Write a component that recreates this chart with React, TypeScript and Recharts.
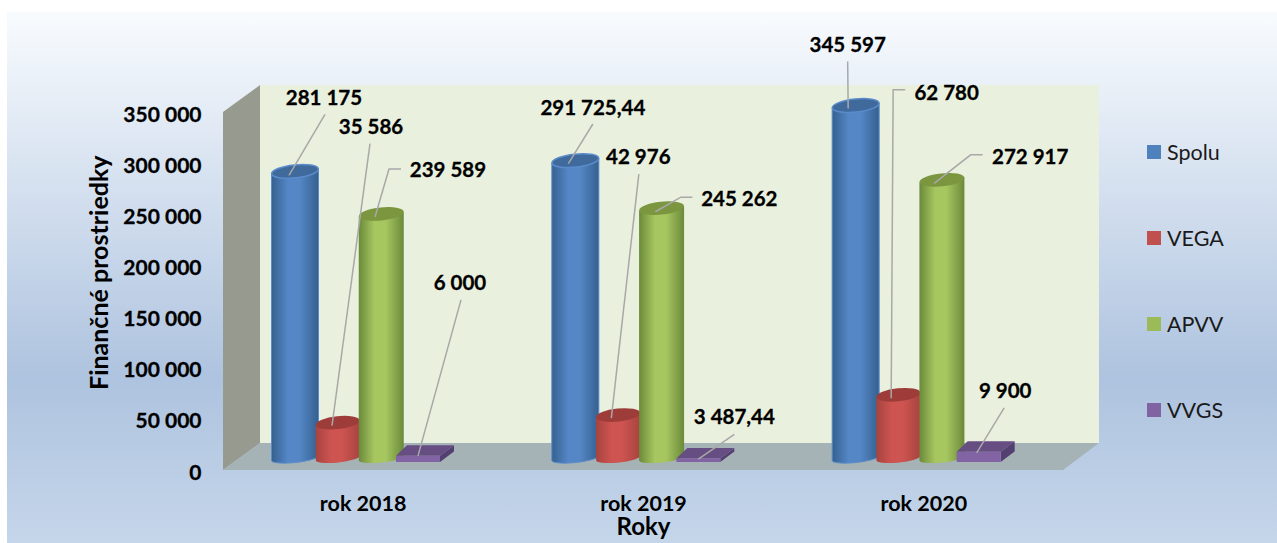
import {
  Bar,
  BarChart,
  LabelList,
  Legend,
  XAxis,
  YAxis,
} from "recharts";

const years = ["rok 2018", "rok 2019", "rok 2020"];
const spolu = [281175, 291725.44, 345597];
const vega = [35586, 42976, 62780];
const apvv = [239589, 245262, 272917];
const vvgs = [6000, 3487.44, 9900];
const yTicks = [0, 50000, 100000, 150000, 200000, 250000, 300000, 350000];

const data = years.map((year, i) => ({
  year,
  Spolu: spolu[i],
  VEGA: vega[i],
  APVV: apvv[i],
  VVGS: vvgs[i],
}));

// label text centre, then leader points, all relative to the bar's top centre
const spoluLabels = [
  { text: [29, -74], line: [[30, -57], [-6, 4]] },
  { text: [17.5, -54], line: [[17.5, -36.6], [-7, 3]] },
  { text: [-8, -62], line: [[-8, -44], [-7.5, 3]] },
];
const vegaLabels = [
  { text: [35, -297], line: [[34, -279], [-4, 3]] },
  { text: [22, -259], line: [[22.5, -241], [-5, 3]] },
  { text: [50, -303], line: [[8.5, -305], [-3.5, -305], [-5.5, 3.5]] },
];
const apvvLabels = [
  { text: [71, -45], line: [[24, -45], [12, -45], [-2, 3]] },
  { text: [82, -10], line: [[35, -11], [23.5, -11], [-2, 3.6]] },
  { text: [92.5, -24], line: [[45, -25], [33, -25], [-3.5, 3.5]] },
];
const vvgsLabels = [
  { text: [42, -171], line: [[43, -153], [0, 3]] },
  { text: [36, -39], line: [[36, -21], [0, 3.6]] },
  { text: [26.5, -59], line: [[25.5, -41], [-2, 4]] },
];

const FONT = "Lato, sans-serif";

const formatValue = (v: number) => {
  const [whole, dec] = String(v).split(".");
  const grouped = whole.replace(/\B(?=(\d{3})+$)/g, " ");
  return dec ? `${grouped},${dec}` : grouped;
};

// walls and floor of the 3D box, sitting behind the bars
const Backdrop = () => (
  <g>
    <rect x={7} y={12} width={1270} height={531} fill="url(#panelBg)" />
    <polygon points="223,112 260,85 260,443 223,470" fill="#979a8e" />
    <polygon points="260,85 1099,85 1099,443 260,443" fill="#e9f0de" />
    <polygon points="260,443 1099,443 1063,470 223,470" fill="#a6b3b6" />
  </g>
);

const Gradients = () => (
  <defs>
    <linearGradient id="panelBg" x1="0" y1="0" x2="0" y2="1">
      <stop offset="0" stopColor="#f8fbfe" />
      <stop offset="0.69" stopColor="#aec3df" />
      <stop offset="1" stopColor="#c5d6ea" />
    </linearGradient>
    {[
      ["blueBody", "#35608f", "#5587c6"],
      ["redBody", "#a8433f", "#cd5450"],
      ["greenBody", "#6b8a3a", "#a6c660"],
    ].map(([id, edge, mid]) => (
      <linearGradient id={id} key={id} x1="0" y1="0" x2="1" y2="0">
        <stop offset="0" stopColor={edge} />
        <stop offset="0.35" stopColor={mid} />
        <stop offset="0.6" stopColor={mid} />
        <stop offset="1" stopColor={edge} />
      </linearGradient>
    ))}
  </defs>
);

const Cylinder = (props: any) => {
  const { x, y, width, height, bodyFill, topFill, rim, drawWidth, nudge } = props;
  const cx = x + width / 2 + nudge;
  const rx = drawWidth / 2;
  const left = cx - rx;
  const right = cx + rx;
  const base = y + height;
  const body = `M${left},${y + 2.5} L${left},${base + 1} A${rx},4.5 -6 0 0 ${right},${base - 3} L${right},${y - 2.5} Z`;
  return (
    <g>
      <path d={body} fill={`url(#${bodyFill})`} stroke={rim} strokeWidth={rim ? 1 : 0} />
      <ellipse
        cx={cx}
        cy={y}
        rx={rx}
        ry={6.5}
        fill={topFill}
        stroke={rim}
        strokeWidth={rim ? 1.5 : 0}
        transform={`rotate(-6 ${cx} ${y})`}
      />
    </g>
  );
};

const Block = (props: any) => {
  const { x, y, width, height } = props;
  const left = x + width / 2 - 22;
  const right = left + 44;
  const top = y + 3;
  const base = y + height + 3;
  return (
    <g>
      <polygon points={`${right},${top} ${right + 14},${top - 10.5} ${right + 14},${base - 10.5} ${right},${base}`} fill="#544070" />
      <polygon points={`${left},${top} ${left + 11},${top - 10.5} ${right + 14},${top - 10.5} ${right},${top}`} fill="#664d82" />
      <rect x={left} y={top} width={44} height={height} fill="#8264a4" />
    </g>
  );
};

const leaderLabel = (layout: typeof spoluLabels) => (props: any) => {
  const { x, y, width, value, index } = props;
  const cx = x + width / 2;
  const { text, line } = layout[index];
  const pts = line.map(([dx, dy]) => `${cx + dx},${y + dy}`).join(" ");
  return (
    <g>
      <polyline points={pts} fill="none" stroke="#a8a8a8" strokeWidth={1.5} />
      <text
        x={cx + text[0]}
        y={y + text[1]}
        textAnchor="middle"
        dominantBaseline="central"
        fontFamily={FONT}
        fontWeight={700}
        fontSize={20.5}
        stroke="#000"
        strokeWidth={0.3}
        fill="#000"
      >
        {formatValue(value)}
      </text>
    </g>
  );
};

const YTick = (props: any) => (
  <text
    x={props.x}
    y={props.y + 12}
    textAnchor="end"
    dominantBaseline="central"
    fontFamily={FONT}
    fontWeight={700}
    fontSize={21}
    stroke="#000"
    strokeWidth={0.3}
    fill="#000"
  >
    {formatValue(props.payload.value)}
  </text>
);

const XTick = (props: any) => (
  <text
    x={props.x + 6.5}
    y={503}
    textAnchor="middle"
    dominantBaseline="central"
    fontFamily={FONT}
    fontWeight={700}
    fontSize={21.5}
    fill="#000"
  >
    {props.payload.value}
  </text>
);

const LegendList = (props: any) => (
  <div style={{ fontFamily: FONT, fontSize: 21.5, color: "#1a1a1a" }}>
    {props.payload.map((item: any) => (
      <div key={item.value} style={{ height: 86, display: "flex", alignItems: "center" }}>
        <span style={{ width: 14, height: 14, background: item.color, marginRight: 6 }} />
        {item.value}
      </div>
    ))}
  </div>
);

export default function App() {
  return (
    <div style={{ position: "absolute", left: 0, top: 0 }}>
      <BarChart
        width={1277}
        height={543}
        data={data}
        barSize={41}
        barGap={0}
        margin={{ top: 101, right: 109.5, bottom: 0, left: 0 }}
      >
        <Gradients />
        <Backdrop />
        <XAxis
          dataKey="year"
          height={84}
          axisLine={false}
          tickLine={false}
          tick={<XTick />}
          label={{
            value: "Roky",
            position: "insideBottom",
            dx: 6.5,
            offset: 8,
            style: { fontFamily: FONT, fontWeight: 700, fontSize: 24, fill: "#000" },
          }}
        />
        <YAxis
          width={216.5}
          domain={[0, 350000]}
          ticks={yTicks}
          axisLine={false}
          tickLine={false}
          tickSize={0}
          tickMargin={15}
          tick={<YTick />}
          label={{
            value: "Finančné prostriedky",
            angle: -90,
            position: "insideLeft",
            dx: 94,
            dy: 110,
            style: { fontFamily: FONT, fontWeight: 700, fontSize: 25, fill: "#000" },
          }}
        />
        <Legend
          content={<LegendList />}
          itemSorter={null}
          layout="vertical"
          align="right"
          verticalAlign="top"
          width={110}
          wrapperStyle={{ left: 1147, right: "auto", top: 109 }}
        />
        <Bar
          dataKey="Spolu"
          fill="#4f81bd"
          isAnimationActive={false}
          shape={(p: any) => (
            <Cylinder {...p} bodyFill="blueBody" topFill="#40699c" rim="#5a8ccb" drawWidth={47} nudge={0} />
          )}
        >
          <LabelList content={leaderLabel(spoluLabels)} />
        </Bar>
        <Bar
          dataKey="VEGA"
          fill="#c0504d"
          isAnimationActive={false}
          shape={(p: any) => (
            <Cylinder {...p} bodyFill="redBody" topFill="#9d3c39" drawWidth={44} nudge={1.75} />
          )}
        >
          <LabelList content={leaderLabel(vegaLabels)} />
        </Bar>
        <Bar
          dataKey="APVV"
          fill="#9bbb59"
          isAnimationActive={false}
          shape={(p: any) => (
            <Cylinder {...p} bodyFill="greenBody" topFill="#7b963f" drawWidth={45} nudge={4.25} />
          )}
        >
          <LabelList content={leaderLabel(apvvLabels)} />
        </Bar>
        <Bar dataKey="VVGS" fill="#8064a2" isAnimationActive={false} shape={(p: any) => <Block {...p} />}>
          <LabelList content={leaderLabel(vvgsLabels)} />
        </Bar>
      </BarChart>
    </div>
  );
}
